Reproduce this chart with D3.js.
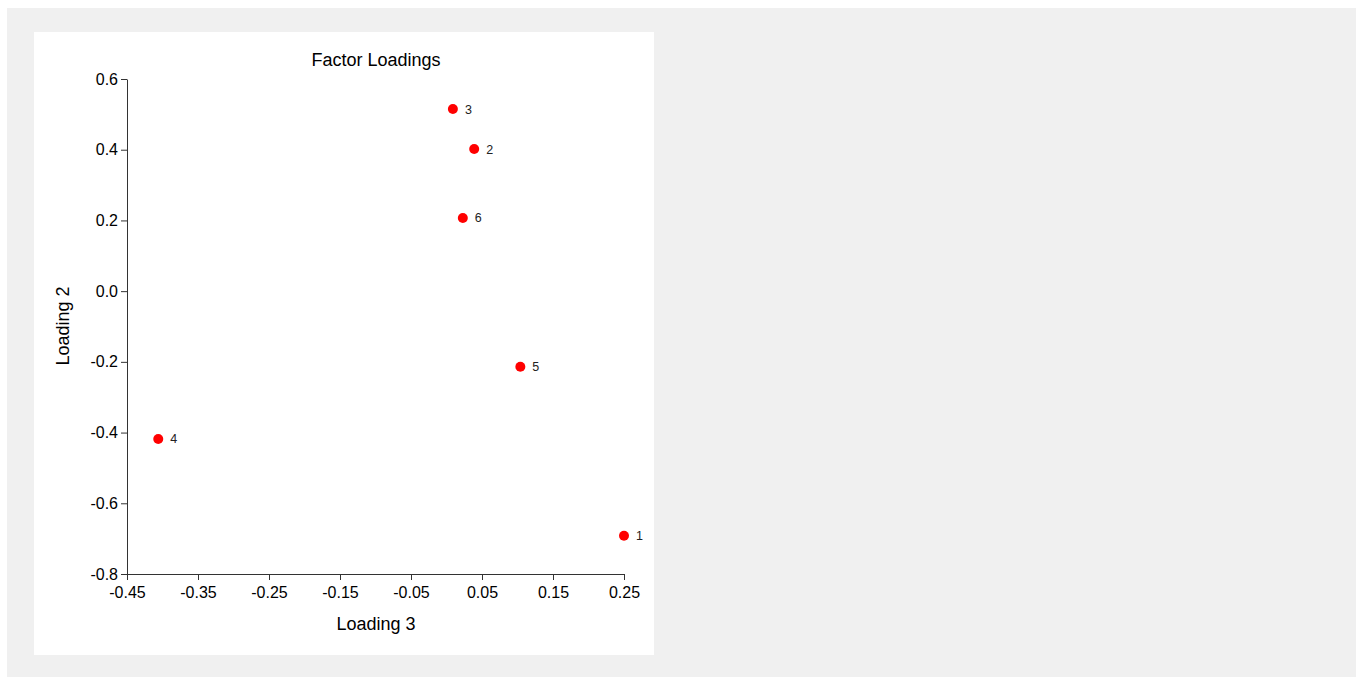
<!DOCTYPE html>
<html>
<head>
<meta charset="utf-8">
<script src="https://cdn.jsdelivr.net/npm/d3@7/dist/d3.min.js"></script>
<style>
  html, body { margin: 0; padding: 0; background: #ffffff; }
  svg { display: block; font-family: "Liberation Sans", Arial, sans-serif; }
</style>
</head>
<body>
<svg id="chart" width="1356" height="677"></svg>
<script>
// Factor loadings: variable id, loading 3 (x), loading 2 (y)
const variables = ["1", "2", "3", "4", "5", "6"];
const loading3 = [0.250, 0.039, 0.009, -0.406, 0.104, 0.023];
const loading2 = [-0.692, 0.402, 0.515, -0.418, -0.214, 0.207];
const xTicks = [-0.45, -0.35, -0.25, -0.15, -0.05, 0.05, 0.15, 0.25];
const yTicks = [0.6, 0.4, 0.2, 0.0, -0.2, -0.4, -0.6, -0.8];

const svg = d3.select("#chart");

// background and panel
svg.append("rect").attr("x", 7).attr("y", 8).attr("width", 1349).attr("height", 669).attr("fill", "#f0f0f0");
svg.append("rect").attr("x", 34).attr("y", 32).attr("width", 620).attr("height", 623).attr("fill", "#ffffff");

const x = d3.scaleLinear().domain([-0.45, 0.25]).range([127, 624]);
const y = d3.scaleLinear().domain([-0.8, 0.6]).range([574, 79]);

// plain hyphen for negative numbers
const fmt = p => v => v.toFixed(p);

const xAxis = svg.append("g")
  .attr("transform", `translate(0,${y(-0.8)})`)
  .call(d3.axisBottom(x).tickValues(xTicks).tickSize(6).tickSizeOuter(0).tickFormat(fmt(2)));
const yAxis = svg.append("g")
  .attr("transform", `translate(${x(-0.45)},0)`)
  .call(d3.axisLeft(y).tickValues(yTicks).tickSize(6).tickSizeOuter(0).tickFormat(fmt(1)));

[xAxis, yAxis].forEach(g => {
  g.select(".domain").attr("stroke", "#333333").attr("stroke-width", 1);
  g.selectAll(".tick line").attr("stroke", "#333333");
  g.selectAll(".tick text").attr("fill", "#000000").attr("font-size", "16px")
    .attr("font-family", "'Liberation Sans', Arial, sans-serif");
});
xAxis.selectAll(".tick text").attr("dy", "0.95em");
yAxis.selectAll(".tick text").attr("x", -9);

// title and axis labels
svg.append("text").attr("x", 376).attr("y", 66).attr("text-anchor", "middle")
  .attr("font-size", "18px").attr("fill", "#000").text("Factor Loadings");
svg.append("text").attr("x", 376).attr("y", 630).attr("text-anchor", "middle")
  .attr("font-size", "18px").attr("fill", "#000").text("Loading 3");
svg.append("text").attr("transform", "translate(69,326) rotate(-90)").attr("text-anchor", "middle")
  .attr("font-size", "18px").attr("fill", "#000").text("Loading 2");

// points
const data = variables.map((v, i) => ({ id: v, lx: loading3[i], ly: loading2[i] }));
const pts = svg.append("g");
pts.selectAll("circle").data(data).join("circle")
  .attr("cx", d => x(d.lx)).attr("cy", d => y(d.ly)).attr("r", 5).attr("fill", "#ff0000");
pts.selectAll("text").data(data).join("text")
  .attr("x", d => x(d.lx) + 12).attr("y", d => y(d.ly) + 4.5)
  .attr("font-size", "12.5px").attr("fill", "#222").text(d => d.id);
</script>
</body>
</html>
